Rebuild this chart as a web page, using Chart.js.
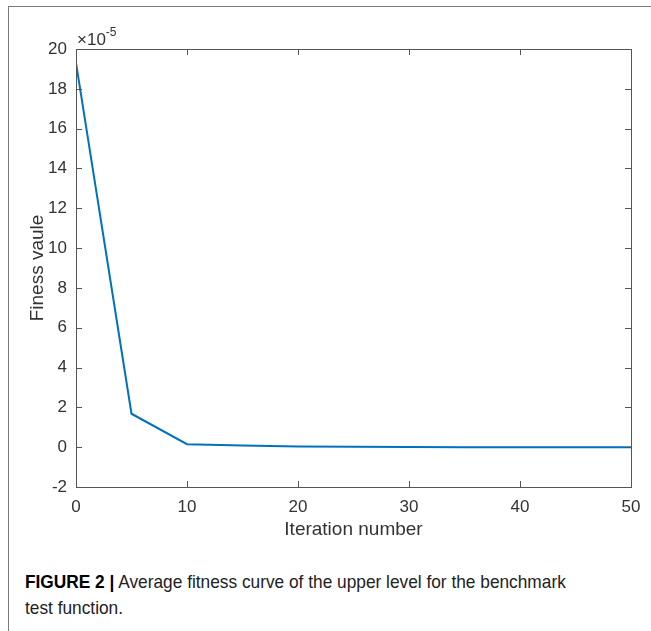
<!DOCTYPE html>
<html>
<head>
<meta charset="utf-8">
<script src="https://cdn.jsdelivr.net/npm/chart.js@4/dist/chart.umd.min.js"></script>
<style>
  body { margin: 0; background: #fff; width: 651px; height: 631px; overflow: hidden; position: relative; font-family: "Liberation Sans", Arial, sans-serif; }
  .frame { position: absolute; left: 8px; top: 6px; right: 0; bottom: 0; border-left: 1px solid #7a7a7a; border-top: 1px solid #7a7a7a; }
  #chart { position: absolute; left: 0; top: 0; }
  .exp { position: absolute; left: 77px; top: 27px; font-size: 17px; color: #333; }
  .exp sup { font-size: 12px; position: relative; top: -2px; }
  .caption { position: absolute; left: 25px; top: 569px; font-size: 19px; line-height: 26px; color: #222; white-space: nowrap; transform: scaleX(0.91); transform-origin: left top; }
  .caption b { color: #000; }
</style>
</head>
<body>
<div class="frame"></div>
<canvas id="chart" width="651" height="545"></canvas>
<div class="exp">&times;10<sup>-5</sup></div>
<div class="caption"><b>FIGURE 2 |</b> Average fitness curve of the upper level for the benchmark<br>test function.</div>
<script>
const iterations = [0, 5, 10, 15, 20, 25, 30, 35, 40, 45, 50];
const fitness = [19.3, 1.68, 0.15, 0.08, 0.04, 0.02, 0.01, 0, 0, 0, 0];
const xTicks = [0, 10, 20, 30, 40, 50];
const yTicks = [-2, 0, 2, 4, 6, 8, 10, 12, 14, 16, 18, 20];

const axisColor = '#555';
const textColor = '#333';

// MATLAB style box with ticks pointing inwards on all four sides
const boxPlugin = {
  id: 'box',
  afterDatasetsDraw(chart) {
    const { ctx, chartArea: a, scales } = chart;
    const len = 6;
    ctx.save();
    ctx.strokeStyle = axisColor;
    ctx.lineWidth = 1;
    ctx.beginPath();
    xTicks.forEach(v => {
      const x = Math.round(scales.x.getPixelForValue(v)) + 0.5;
      ctx.moveTo(x, a.bottom); ctx.lineTo(x, a.bottom - len);
      ctx.moveTo(x, a.top); ctx.lineTo(x, a.top + len);
    });
    yTicks.forEach(v => {
      const y = Math.round(scales.y.getPixelForValue(v)) + 0.5;
      ctx.moveTo(a.left, y); ctx.lineTo(a.left + len, y);
      ctx.moveTo(a.right, y); ctx.lineTo(a.right - len, y);
    });
    ctx.stroke();
    ctx.strokeRect(Math.round(a.left) + 0.5, Math.round(a.top) + 0.5, Math.round(a.right - a.left), Math.round(a.bottom - a.top));
    ctx.restore();
  }
};

new Chart(document.getElementById('chart').getContext('2d'), {
  type: 'line',
  data: {
    labels: iterations,
    datasets: [{
      data: iterations.map((x, i) => ({ x: x, y: fitness[i] })),
      borderColor: '#0072BD',
      borderWidth: 2,
      pointRadius: 0,
      tension: 0,
      fill: false,
    }],
  },
  options: {
    responsive: false,
    animation: false,
    devicePixelRatio: 1,
    layout: { padding: { top: 49, right: 20, left: 0, bottom: 0 } },
    plugins: { legend: { display: false }, tooltip: { enabled: false } },
    scales: {
      x: {
        type: 'linear',
        min: 0,
        max: 50,
        afterFit: scale => { scale.height = 58; },
        afterBuildTicks: scale => { scale.ticks = xTicks.map(v => ({ value: v })); },
        grid: { display: false, drawTicks: false },
        border: { display: false },
        ticks: { padding: 10, color: textColor, font: { family: 'Liberation Sans', size: 17 } },
        title: {
          display: true,
          text: 'Iteration number',
          color: textColor,
          font: { family: 'Liberation Sans', size: 19 },
          padding: { top: 0, bottom: 4 },
        },
      },
      y: {
        type: 'linear',
        min: -2,
        max: 20,
        afterFit: scale => { scale.width = 76; },
        afterBuildTicks: scale => { scale.ticks = yTicks.map(v => ({ value: v })); },
        grid: { display: false, drawTicks: false },
        border: { display: false },
        ticks: { padding: 9, color: textColor, font: { family: 'Liberation Sans', size: 17 } },
        title: {
          display: true,
          text: 'Finess vaule',
          color: textColor,
          font: { family: 'Liberation Sans', size: 19 },
          padding: { top: 26, bottom: 0 },
        },
      },
    },
  },
  plugins: [boxPlugin],
});
</script>
</body>
</html>
